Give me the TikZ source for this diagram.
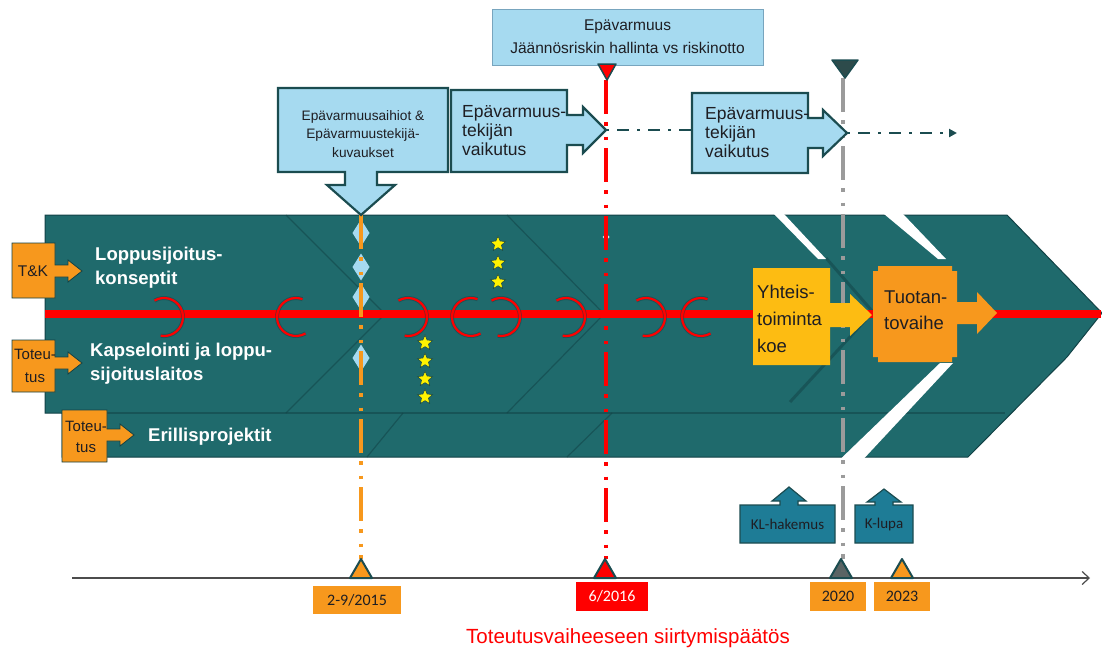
\documentclass[tikz,border=0pt]{standalone}
\usepackage{fontspec}
\setmainfont{Liberation Sans}
\newfontfamily\calfont{Carlito}
\usetikzlibrary{shapes.geometric,arrows.meta}
\definecolor{tealmain}{RGB}{31,106,108}
\definecolor{tealdark}{RGB}{18,66,70}
\definecolor{calloutborder}{RGB}{27,76,80}
\definecolor{lightblue}{RGB}{166,218,240}
\definecolor{orangebox}{RGB}{247,152,29}
\definecolor{goldbox}{RGB}{253,188,18}
\definecolor{klblue}{RGB}{30,124,150}
\definecolor{greyline}{RGB}{155,155,155}
\definecolor{txtdark}{RGB}{30,30,35}
\begin{document}
\begin{tikzpicture}[x=1pt,y=-1pt,
  callout/.style={fill=lightblue,draw=calloutborder,line width=2.2pt,line join=miter},
  lbl/.style={fill=orangebox,draw=tealdark,line width=0.8pt},
  vline/.style={line width=4pt,dash pattern=on 34pt off 8pt on 3.5pt off 11pt on 3.5pt off 8pt},
  tri/.style={draw=calloutborder,line width=2pt,line join=round},
  faint/.style={draw=tealdark,line width=1.2pt,opacity=.55},
  arcR/.style={draw=red,line width=2.2pt},
  arcS/.style={draw=tealdark,line width=4pt,opacity=.45},
  star5/.style={star,star points=5,star point ratio=2.2,fill=yellow,draw=tealdark,line width=.5pt,minimum size=16pt,inner sep=0pt},
  wlabel/.style={inner sep=0pt,text=white,font=\fontsize{18.5}{24}\selectfont\bfseries,align=left,anchor=west},
  dtxt/.style={inner sep=0pt,text=txtdark},
  datebox/.style={inner sep=0pt,fill=orangebox,text=txtdark,font=\calfont\fontsize{16}{18}\selectfont},
]
\useasboundingbox (0,0) rectangle (1102,651);

% ---------- teal band ----------
\draw[fill=tealmain,draw=tealdark,line width=1pt]
  (45,215) -- (1007,215) -- (1102,313) -- (1067,357) -- (968,457) -- (62,457) -- (62,413) -- (45,413) -- cycle;
\draw[faint] (286,215) -- (385,314) -- (286,413);
\draw[faint] (507,215) -- (604,314) -- (507,413);
\draw[faint] (403,413) -- (367,457);
\draw[faint] (612,413) -- (567,457);
\draw[faint] (62,413) -- (1005,413);
\draw[draw=tealdark,line width=3pt,opacity=.5] (826,258) -- (873,312) -- (790,402);
% white gaps
\fill[white] (774,214) -- (784,214) -- (826,259) -- (818,259) -- cycle;
\fill[white] (884,214) -- (903,214) -- (946,259) -- (938,259) -- cycle;
\fill[white] (940,363) -- (953,363) -- (864,458.5) -- (841,458.5) -- cycle;

% ---------- red main line ----------
\coordinate (redL) at (45,314);
\coordinate (redR) at (1101,314);
\draw[red,line width=8pt] (redL) -- (redR);

% arcs
\foreach \r in {183,427,520,585,665}{
  \draw[arcS] ({\r-19+19*cos(-120)},{317+19*sin(-120)}) arc[start angle=-120,end angle=100,radius=19];
  \draw[arcR] ({\r-19+19*cos(-120)},{317+19*sin(-120)}) arc[start angle=-120,end angle=100,radius=19];
}
\foreach \l in {277,452,682}{
  \draw[arcS] ({\l+19+19*cos(-70)},{317+19*sin(-70)}) arc[start angle=-70,end angle=-300,radius=19];
  \draw[arcR] ({\l+19+19*cos(-70)},{317+19*sin(-70)}) arc[start angle=-70,end angle=-300,radius=19];
}

% diamonds on orange line
\foreach \yy in {233,267,297,358}{
  \fill[lightblue] (361,\yy-13.5) -- (369.5,\yy) -- (361,\yy+13.5) -- (352.5,\yy) -- cycle;
}
\fill[lightblue!60!white] (606,233.5) -- (609.5,237) -- (606,240.5) -- (602.5,237) -- cycle;

% ---------- vertical milestone lines ----------
\coordinate (oTop) at (361,215);
\coordinate (oBot) at (361,559);
\coordinate (rTop) at (606,80);
\coordinate (rBot) at (606,559);
\coordinate (gTop) at (843,78);
\coordinate (gBot) at (843,559);
\draw[vline,orangebox] (oTop) -- (oBot);
\draw[vline,red] (rTop) -- (rBot);
\draw[vline,greyline,line width=3.2pt] (gTop) -- (gBot);

% stars
\foreach \yy [count=\i] in {244,263,282}{ \node[star5] (sa\i) at (498,\yy) {}; }
\foreach \yy [count=\i] in {343,361,379,397}{ \node[star5] (sb\i) at (425,\yy) {}; }

% ---------- top callouts ----------
\node[draw={rgb,255:red,120;green,165;blue,190},line width=1pt,fill=lightblue,minimum width=271pt,minimum height=56pt,
      inner sep=0pt,align=center,text=txtdark,font=\fontsize{15.5}{23}\selectfont] (topbox) at (627.5,37)
      {Epävarmuus\\Jäännösriskin hallinta vs riskinotto};
\draw[tri,fill=red,line width=1.5pt] (598,64) -- (616,64) -- (607,80) -- cycle;
\draw[tri,fill={rgb,255:red,45;green,75;blue,75},line width=1.5pt] (832,60) -- (858,60) -- (845,78) -- cycle;

\draw[callout] (278,88) -- (448,88) -- (448,172) -- (377,172) -- (377,185) -- (395,185) -- (361,215)
  -- (327,185) -- (345,185) -- (345,172) -- (278,172) -- cycle;
\node[dtxt,align=center,font=\fontsize{13.7}{18.5}\selectfont] (cA) at (363,134)
  {Epävarmuusaihiot \&\\Epävarmuustekijä-\\kuvaukset};

\draw[callout] (451,90) -- (567,90) -- (567,115) -- (583,115) -- (583,107) -- (606,130) -- (583,153)
  -- (583,145) -- (567,145) -- (567,172) -- (451,172) -- cycle;
\coordinate (tipB) at (606,130);
\node[dtxt,align=left,anchor=west,font=\fontsize{17.5}{19}\selectfont] (cB) at (462,131)
  {Epävarmuus-\\tekijän\\vaikutus};

\draw[callout] (692,93) -- (808,93) -- (808,118) -- (823,118) -- (823,110) -- (847,133) -- (823,156)
  -- (823,148) -- (808,148) -- (808,173) -- (692,173) -- cycle;
\coordinate (boxCw) at (692,130);
\coordinate (tipC) at (847,133);
\coordinate (arrEnd) at (957,133);
\node[dtxt,align=left,anchor=west,font=\fontsize{17.5}{19}\selectfont] (cC) at (705,133)
  {Epävarmuus-\\tekijän\\vaikutus};

\draw[calloutborder,line width=2.5pt,dash pattern=on 3pt off 8pt on 12pt off 8pt] (tipB) -- (boxCw);
\draw[calloutborder,line width=2.5pt,dash pattern=on 3pt off 8pt on 12pt off 8pt,
      -{Triangle[length=8pt,width=8pt]}] (tipC) -- (arrEnd);

% ---------- left labels ----------
\draw[lbl] (12,243) -- (55,243) -- (55,265) -- (68,265) -- (68,260) -- (82,271) -- (68,282) -- (68,277)
  -- (55,277) -- (55,298) -- (12,298) -- cycle;
\node[dtxt,font=\fontsize{15.5}{18}\selectfont] (tk) at (33,271) {T\&K};
\draw[lbl] (12,340) -- (55,340) -- (55,357) -- (68,357) -- (68,352) -- (82,363) -- (68,374) -- (68,369)
  -- (55,369) -- (55,392) -- (12,392) -- cycle;
\node[dtxt,align=center,font=\fontsize{15}{23}\selectfont] (tot1) at (35,366) {Toteu-\\tus};
\draw[lbl] (62,410) -- (107,410) -- (107,429) -- (120,429) -- (120,424) -- (134,435) -- (120,446) -- (120,441)
  -- (107,441) -- (107,462) -- (62,462) -- cycle;
\node[dtxt,align=center,font=\fontsize{15}{21}\selectfont] (tot2) at (86,437) {Toteu-\\tus};

\node[wlabel] (lp) at (95,268) {Loppusijoitus-\\konseptit};
\node[wlabel] (kap) at (90,364) {Kapselointi ja loppu-\\sijoituslaitos};
\node[wlabel] (eri) at (148,437) {Erillisprojektit};

% ---------- right phase boxes ----------
\draw[fill=goldbox,draw=none] (753,268) -- (830,268) -- (830,303) -- (850,303) -- (850,294) -- (872,315)
  -- (850,336) -- (850,327) -- (830,327) -- (830,365) -- (753,365) -- cycle;
\node[dtxt,align=left,anchor=west,font=\fontsize{18.5}{27}\selectfont] (yht) at (757,319)
  {Yhteis-\\toiminta\\koe};
\draw[fill=orangebox,draw=none] (878,266) -- (952,266) -- (952,271) -- (957,271) -- (957,302) -- (977,302)
  -- (977,292) -- (997,313) -- (977,334) -- (977,324) -- (957,324) -- (957,357) -- (952,357) -- (952,362)
  -- (878,362) -- (878,357) -- (873,357) -- (873,271) -- (878,271) -- cycle;
\node[dtxt,align=left,anchor=west,font=\fontsize{18.5}{26}\selectfont] (tuo) at (884,310)
  {Tuotan-\\tovaihe};

% ---------- bottom: licence boxes ----------
\draw[fill=klblue,draw=calloutborder,line width=1.2pt] (740,505) -- (780,505) -- (780,501) -- (772,501)
  -- (789,487) -- (806,501) -- (798,501) -- (798,505) -- (835,505) -- (835,543) -- (740,543) -- cycle;
\node[dtxt,font=\calfont\fontsize{15}{17}\selectfont] (klh) at (787.5,524) {KL-hakemus};
\draw[fill=klblue,draw=calloutborder,line width=1.2pt] (855,505) -- (875,505) -- (875,502) -- (867,502)
  -- (884,489) -- (901,502) -- (893,502) -- (893,505) -- (913,505) -- (913,543) -- (855,543) -- cycle;
\node[dtxt,font=\calfont\fontsize{15}{17}\selectfont] (klu) at (884,524) {K-lupa};

% ---------- timeline ----------
\coordinate (tlS) at (72,578);
\coordinate (tlE) at (1090,578);
\draw[line width=1.2pt,draw=black!70,-{Straight Barb[length=7pt,width=13pt]}] (tlS) -- (tlE);

\draw[tri,fill=orangebox] (350,578) -- (372,578) -- (361,559) -- cycle;
\draw[tri,fill=red] (594,578) -- (616,578) -- (605,559) -- cycle;
\draw[tri,fill={rgb,255:red,90;green,100;blue,100}] (830,578) -- (852,578) -- (841,559) -- cycle;
\draw[tri,fill=orangebox] (891,578) -- (913,578) -- (902,559) -- cycle;

\node[datebox,minimum width=88pt,minimum height=28pt] (d1) at (357,600) {2-9/2015};
\node[datebox,fill=red,text=white,minimum width=72pt,minimum height=29pt] (d2) at (612,596.5) {6/2016};
\node[datebox,minimum width=56pt,minimum height=29pt] (d3) at (838,596.5) {2020};
\node[datebox,minimum width=56pt,minimum height=29pt] (d4) at (902,596.5) {2023};

\node[inner sep=0pt,text=red,font=\fontsize{20.5}{24}\selectfont] (dec) at (628,638)
  {Toteutusvaiheeseen siirtymispäätös};
\end{tikzpicture}
\end{document}
